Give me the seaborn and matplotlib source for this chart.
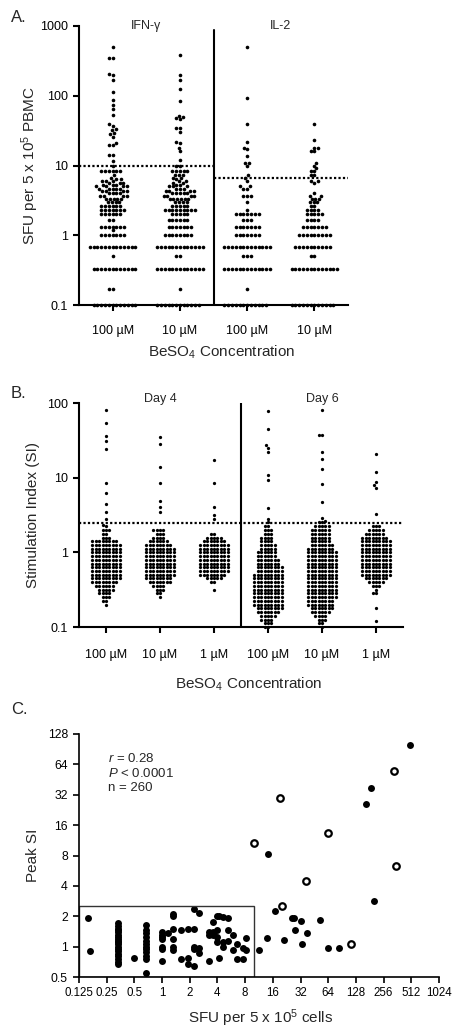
import warnings

import matplotlib
matplotlib.use("Agg")
import matplotlib.pyplot as plt
import matplotlib.transforms as mtransforms
import numpy as np
import pandas as pd
import seaborn as sns
from matplotlib.patches import Rectangle
from matplotlib.ticker import NullLocator

warnings.filterwarnings("ignore")

# ---------------- Panel A: ELISPOT spot-forming units ----------------
A_GROUPS = ["IFN 100", "IFN 10", "IL2 100", "IL2 10"]
A_TICKLABELS = ["100 µM", "10 µM", "100 µM", "10 µM"]
A_PANELS = ["IFN-γ", "IL-2"]
A_CUTOFFS = [10, 6.7]
# SFU come in thirds, so the dots stack in rows: number of dots per row
A_LEVELS = [0.1, 0.17, 0.33, 0.5, 0.67, 1.0, 1.33, 1.67, 2.0, 2.33, 2.67, 3.0, 3.33,
            3.67, 4.0, 4.33, 4.67, 5.0, 5.33, 5.67, 6.0, 6.33, 6.67, 7.33, 8.33]
IFN_100_N = [12, 2, 12, 1, 13, 7, 7, 2, 6, 7, 6, 4, 5, 4, 4, 4, 5, 4, 3, 3, 3, 2, 1, 1, 6]
IFN_10_N = [12, 1, 13, 2, 13, 8, 7, 6, 5, 9, 5, 4, 6, 4, 5, 4, 3, 3, 2, 2, 2, 1, 2, 3, 5]
IL2_100_N = [12, 1, 13, 3, 13, 7, 7, 3, 7, 1, 0, 1, 0, 3, 0, 0, 2, 2, 0, 0, 1, 0, 1, 1, 0]
IL2_10_N = [12, 0, 13, 2, 10, 9, 7, 4, 5, 4, 2, 3, 3, 2, 1, 0, 0, 0, 0, 1, 2, 0, 0, 2, 2]
# the loose points above the rows
IFN_100_EXTRA = [1.17, 10, 11.5, 14, 14, 20, 20, 21, 26, 28, 29, 32, 33, 37, 39, 53, 64,
                 74, 88, 115, 170, 200, 205, 345, 350, 495]
IFN_10_EXTRA = [10, 10, 12, 16, 18, 21, 22, 30, 35, 35, 46, 48, 50, 52, 83, 125, 170, 200, 385]
IL2_100_EXTRA = [10, 11, 11, 13.6, 17, 18, 22, 40, 93, 505]
IL2_10_EXTRA = [9.2, 10, 11, 16, 16, 18, 18, 23.5, 39]

# ---------------- Panel B: stimulation index ----------------
B_GROUPS = ["D4 100", "D4 10", "D4 1", "D6 100", "D6 10", "D6 1"]
B_TICKLABELS = ["100 µM", "10 µM", "1 µM", "100 µM", "10 µM", "1 µM"]
B_PANELS = ["Day 4", "Day 6"]
B_CUTOFF = 2.5
SI_LEVELS = [0.100, 0.112, 0.126, 0.141, 0.158, 0.178, 0.200, 0.224, 0.251, 0.282,
             0.316, 0.355, 0.398, 0.447, 0.501, 0.562, 0.631, 0.708, 0.794, 0.891,
             1.00, 1.12, 1.26, 1.41, 1.58, 1.78, 2.00, 2.24, 2.51]
D4_100_N = [0, 0, 0, 0, 0, 0, 1, 2, 3, 4, 5, 6, 8, 9, 9, 9, 9, 9, 9, 9, 9, 9, 9, 8, 3, 2, 3, 1, 0]
D4_10_N = [0, 0, 0, 0, 0, 0, 0, 0, 1, 2, 3, 4, 7, 8, 9, 9, 9, 9, 9, 9, 9, 9, 8, 6, 4, 3, 4, 0, 0]
D4_1_N = [0, 0, 0, 0, 0, 0, 0, 0, 0, 0, 1, 0, 2, 5, 8, 9, 9, 9, 9, 9, 9, 9, 9, 7, 5, 2, 0, 0, 0]
D6_100_N = [2, 3, 4, 5, 7, 8, 9, 9, 9, 9, 9, 9, 9, 9, 9, 8, 8, 7, 7, 6, 6, 5, 5, 4, 4, 3, 3, 2, 1]
D6_10_N = [1, 2, 3, 4, 6, 7, 8, 8, 9, 9, 9, 9, 9, 9, 9, 9, 9, 9, 9, 9, 9, 8, 7, 6, 6, 6, 6, 5, 2]
D6_1_N = [0, 0, 0, 0, 0, 1, 0, 0, 0, 2, 1, 3, 5, 7, 9, 9, 9, 9, 9, 9, 9, 9, 9, 9, 8, 6, 5, 3, 0]
D4_100_EXTRA = [2.3, 2.8, 3.5, 4.5, 6.2, 8.5, 24, 31, 36, 54, 81]
D4_10_EXTRA = [3.5, 4.0, 4.8, 8.5, 14, 28, 35]
D4_1_EXTRA = [2.8, 3.2, 4.0, 8.5, 17]
D6_100_EXTRA = [2.8, 3.9, 9.2, 10.7, 22, 25, 27, 45, 77]
D6_10_EXTRA = [2.6, 2.9, 4.7, 8.1, 13, 18, 22, 37, 37, 80]
D6_1_EXTRA = [0.12, 3.3, 7.3, 7.9, 8.7, 12, 21]

# ---------------- Panel C: SFU vs peak SI ----------------
C_SFU = [0.155, 0.165,
         0.33, 0.33, 0.33, 0.33, 0.33, 0.33, 0.33, 0.33, 0.33, 0.33, 0.33, 0.33, 0.33,
         0.33, 0.33, 0.33, 0.33, 0.33, 0.33,
         0.5,
         0.67, 0.67, 0.67, 0.67, 0.67, 0.67, 0.67, 0.67, 0.67, 0.67, 0.67, 0.67,
         1.0, 1.0, 1.0, 1.0, 1.0, 1.0, 1.0, 1.15,
         1.33, 1.33, 1.33, 1.33, 1.33, 1.33, 1.6, 1.6, 1.9, 1.9, 1.9,
         2.25, 2.25, 2.25, 2.25, 2.25, 2.55, 2.55, 2.55, 3.2, 3.2, 3.2,
         3.6, 3.6, 3.6, 3.6, 4.0, 4.0, 4.0, 4.0, 4.2, 4.2, 4.6, 4.6, 4.6,
         5.2, 5.2, 5.2, 5.9, 5.9, 6.6, 6.6, 7.6, 7.6, 8.2, 8.2,
         11.3, 13.7, 14, 17, 21, 26, 27, 28, 32, 33, 38, 52, 63, 84, 166, 187, 200, 490]
C_SI = [1.9, 0.9,
        1.7, 1.6, 1.5, 1.45, 1.4, 1.3, 1.25, 1.2, 1.15, 1.1, 1.05, 1.0, 0.95,
        0.9, 0.85, 0.8, 0.75, 0.7, 0.68,
        0.78,
        1.65, 1.45, 1.35, 1.25, 1.15, 1.05, 1.0, 0.95, 0.88, 0.8, 0.75, 0.55,
        1.4, 1.3, 1.25, 1.2, 1.0, 0.95, 0.72, 1.35,
        2.1, 2.0, 1.5, 1.2, 1.0, 0.93, 1.45, 0.75, 1.48, 0.78, 0.68,
        2.35, 1.5, 1.0, 0.95, 0.65, 2.15, 0.97, 0.86, 1.4, 1.3, 0.72,
        1.75, 1.4, 1.35, 1.3, 2.0, 1.45, 1.25, 1.1, 2.0, 0.77, 1.95, 1.1, 1.0,
        1.9, 1.45, 1.15, 1.3, 0.93, 1.07, 0.75, 0.76, 0.97, 1.23, 0.93,
        0.92, 1.23, 8.2, 2.25, 1.16, 1.9, 1.9, 1.45, 1.8, 1.07, 1.37, 1.85, 0.97, 0.97,
        26, 37, 2.85, 99]
C_OPEN_SFU = [10, 19, 20, 37, 64, 114, 336, 345]
C_OPEN_SI = [10.6, 30, 2.5, 4.5, 13.5, 1.05, 55, 6.3]
C_GATE_SFU = (0.125, 10)
C_GATE_SI = (0.5, 2.5)
C_STATS = ["$r$ = 0.28", "$P$ < 0.0001", "n = 260"]
C_XTICKS = [0.125, 0.25, 0.5, 1, 2, 4, 8, 16, 32, 64, 128, 256, 512, 1024]
C_YTICKS = [0.5, 1, 2, 4, 8, 16, 32, 64, 128]


def expand(levels, counts, extra):
    return list(np.repeat(levels, counts)) + list(extra)


def style_axis(ax, lw=1.5):
    sns.despine(ax=ax)
    for side in ("left", "bottom"):
        ax.spines[side].set_linewidth(lw)
    ax.yaxis.set_minor_locator(NullLocator())
    ax.xaxis.set_minor_locator(NullLocator())
    ax.tick_params(width=lw, length=4.5, labelsize=9, direction="out")


def unclip(ax):
    # dots sitting on the axis line are drawn whole, over the spine
    for coll in ax.collections:
        coll.set_clip_on(False)
        coll.set_zorder(3)


sns.set_theme(style="ticks")
plt.rcParams["font.family"] = ["Liberation Sans", "DejaVu Sans"]
plt.rcParams["mathtext.fontset"] = "custom"
plt.rcParams["mathtext.rm"] = "Liberation Sans"
plt.rcParams["mathtext.it"] = "Liberation Sans:italic"
plt.rcParams["axes.edgecolor"] = "black"
plt.rcParams["xtick.color"] = "black"
plt.rcParams["ytick.color"] = "black"

fig = plt.figure(figsize=(4.65, 10.35), dpi=100)
W, H = 465, 1035
dotted = (0, (1, 1))

# ---- A ----
axA = fig.add_axes([79 / W, 1 - 305 / H, 269 / W, 279 / H])
a_counts = [IFN_100_N, IFN_10_N, IL2_100_N, IL2_10_N]
a_extra = [IFN_100_EXTRA, IFN_10_EXTRA, IL2_100_EXTRA, IL2_10_EXTRA]
dfA = pd.concat([pd.DataFrame({"group": g, "sfu": expand(A_LEVELS, c, e)})
                 for g, c, e in zip(A_GROUPS, a_counts, a_extra)])
sns.swarmplot(data=dfA, x="group", y="sfu", order=A_GROUPS, color="black",
              size=2.6, log_scale=True, ax=axA)
unclip(axA)
axA.set_ylim(0.1, 1000)
axA.set_xlim(-0.5, 3.5)
axA.plot([-0.5, 1.5], [A_CUTOFFS[0]] * 2, ls=dotted, color="black", lw=1.6)
axA.plot([1.5, 3.5], [A_CUTOFFS[1]] * 2, ls=dotted, color="black", lw=1.6)
axA.axvline(1.5, ymax=0.985, color="black", lw=1.5)
style_axis(axA)
axA.set_yticks([0.1, 1, 10, 100, 1000], labels=["0.1", "1", "10", "100", "1000"])
axA.set_xticks(range(4), labels=A_TICKLABELS)
axA.tick_params(axis="x", pad=10)
trA = mtransforms.blended_transform_factory(axA.transData, axA.transAxes)
for xpos, name in zip([0.5, 2.5], A_PANELS):
    axA.text(xpos, 1.0, name, transform=trA, ha="center", va="center", fontsize=9)
axA.set_xlabel("BeSO$_4$ Concentration", fontsize=11)
axA.set_ylabel("SFU per 5 x 10$^5$ PBMC", fontsize=11)
axA.xaxis.set_label_coords(0.53, -0.14)
axA.yaxis.set_label_coords(-0.14, 0.5)

# ---- B ----
axB = fig.add_axes([79 / W, 1 - 627 / H, 324 / W, 224 / H])
b_counts = [D4_100_N, D4_10_N, D4_1_N, D6_100_N, D6_10_N, D6_1_N]
b_extra = [D4_100_EXTRA, D4_10_EXTRA, D4_1_EXTRA, D6_100_EXTRA, D6_10_EXTRA, D6_1_EXTRA]
dfB = pd.concat([pd.DataFrame({"group": g, "si": expand(SI_LEVELS, c, e)})
                 for g, c, e in zip(B_GROUPS, b_counts, b_extra)])
sns.swarmplot(data=dfB, x="group", y="si", order=B_GROUPS, color="black",
              size=2.35, log_scale=True, ax=axB)
unclip(axB)
axB.set_ylim(0.1, 100)
axB.set_xlim(-0.5, 5.5)
axB.axhline(B_CUTOFF, ls=dotted, color="black", lw=1.6)
axB.axvline(2.5, color="black", lw=1.5)
style_axis(axB)
axB.set_yticks([0.1, 1, 10, 100], labels=["0.1", "1", "10", "100"])
axB.set_xticks(range(6), labels=B_TICKLABELS)
axB.tick_params(axis="x", pad=11)
trB = mtransforms.blended_transform_factory(axB.transData, axB.transAxes)
for xpos, name in zip([1, 4], B_PANELS):
    axB.text(xpos, 1.02, name, transform=trB, ha="center", va="center", fontsize=9)
axB.set_xlabel("BeSO$_4$ Concentration", fontsize=11)
axB.set_ylabel("Stimulation Index (SI)", fontsize=11)
axB.xaxis.set_label_coords(0.525, -0.215)
axB.yaxis.set_label_coords(-0.12, 0.5)

# ---- C ----
axC = fig.add_axes([79 / W, 1 - 977 / H, 360 / W, 243 / H])
axC.set_xscale("log", base=2)
axC.set_yscale("log", base=2)
sns.scatterplot(x=C_SFU, y=C_SI, color="black", s=25, linewidth=0, ax=axC)
sns.scatterplot(x=C_OPEN_SFU, y=C_OPEN_SI, color="white", edgecolor="black",
                s=22, linewidth=1.6, ax=axC)
axC.add_patch(Rectangle((C_GATE_SFU[0], C_GATE_SI[0]), C_GATE_SFU[1] - C_GATE_SFU[0],
                        C_GATE_SI[1] - C_GATE_SI[0], fill=False, ec="#333333", lw=1.0))
axC.set_xlim(C_XTICKS[0], C_XTICKS[-1])
axC.set_ylim(C_YTICKS[0], C_YTICKS[-1])
style_axis(axC, lw=1.2)
axC.set_xticks(C_XTICKS, labels=[f"{v:g}" for v in C_XTICKS])
axC.set_yticks(C_YTICKS, labels=[f"{v:g}" for v in C_YTICKS])
axC.tick_params(axis="x", pad=3, labelsize=8.3)
axC.tick_params(axis="y", labelsize=8.8)
axC.text(0.08, 0.925, "\n".join(C_STATS), transform=axC.transAxes, ha="left", va="top",
         fontsize=9.5, linespacing=1.2)
axC.set_xlabel("SFU per 5 x 10$^5$ cells", fontsize=11)
axC.set_ylabel("Peak SI", fontsize=11)
axC.xaxis.set_label_coords(0.503, -0.125)
axC.yaxis.set_label_coords(-0.108, 0.5)

# panel letters
for label, ypx in zip(["A.", "B.", "C."], [18, 393, 710]):
    fig.text(11 / W, 1 - ypx / H, label, fontsize=12, ha="left", va="center")

fig.savefig("out.png", dpi=100)
